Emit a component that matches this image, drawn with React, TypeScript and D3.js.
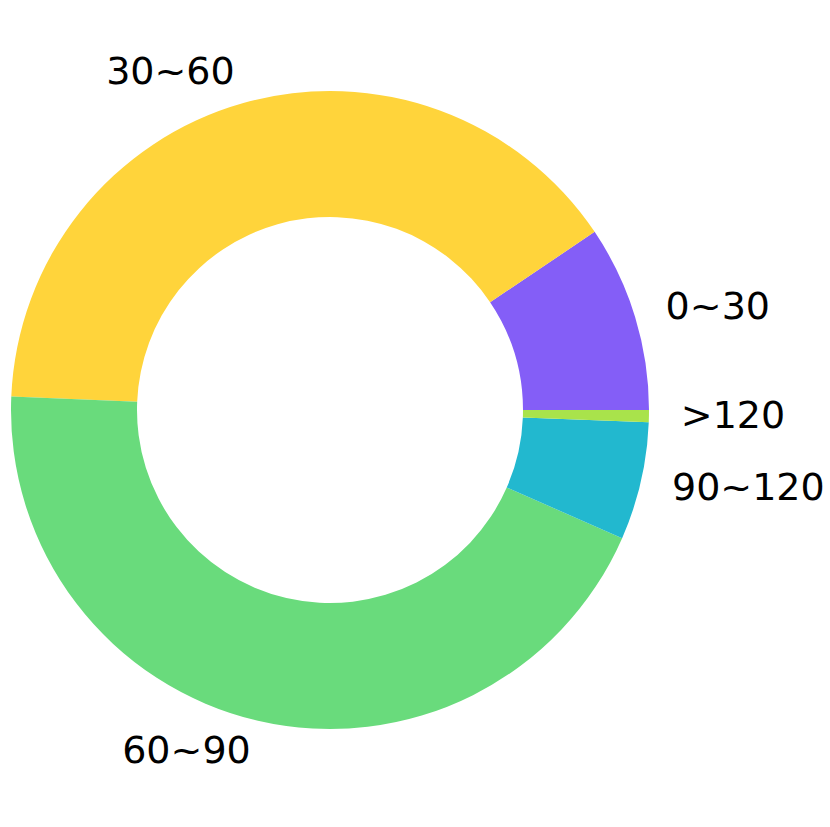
import React from "react";
import * as d3 from "d3";

const categories = ["0~30", "30~60", "60~90", "90~120", ">120"];
const values = [9.43, 39.9, 44.1, 5.97, 0.61];
const colors = ["#845ef7", "#ffd43b", "#69db7c", "#22b8cf", "#a9e34b"];

const W = 830;
const H = 827;
const CX = 330;
const CY = 410;
const R = 319;
const R_IN = 193;
const LABEL_DIST = 1.1;
const FONT = 38;

export default function App() {
  const pie = d3
    .pie<number>()
    .sort(null)
    .startAngle(Math.PI / 2)
    .endAngle(Math.PI / 2 - 2 * Math.PI);
  const arcs = pie(values);
  const arc = d3.arc<d3.PieArcDatum<number>>().innerRadius(R_IN).outerRadius(R);

  return (
    <svg
      width={W}
      height={H}
      style={{ position: "absolute", left: 0, top: 0, background: "#fff" }}
    >
      <g transform={`translate(${CX},${CY})`}>
        {arcs.map((a, i) => (
          <path key={i} d={arc(a) || ""} fill={colors[i]} />
        ))}
        {arcs.map((a, i) => {
          const mid = (a.startAngle + a.endAngle) / 2;
          const x = Math.sin(mid) * R * LABEL_DIST;
          const y = -Math.cos(mid) * R * LABEL_DIST;
          return (
            <text
              key={"t" + i}
              x={x}
              y={y + FONT * 0.3}
              textAnchor={x > 0 ? "start" : "end"}
              fontFamily="DejaVu Sans"
              fontSize={FONT}
              fill="#000"
            >
              {categories[i]}
            </text>
          );
        })}
      </g>
    </svg>
  );
}
